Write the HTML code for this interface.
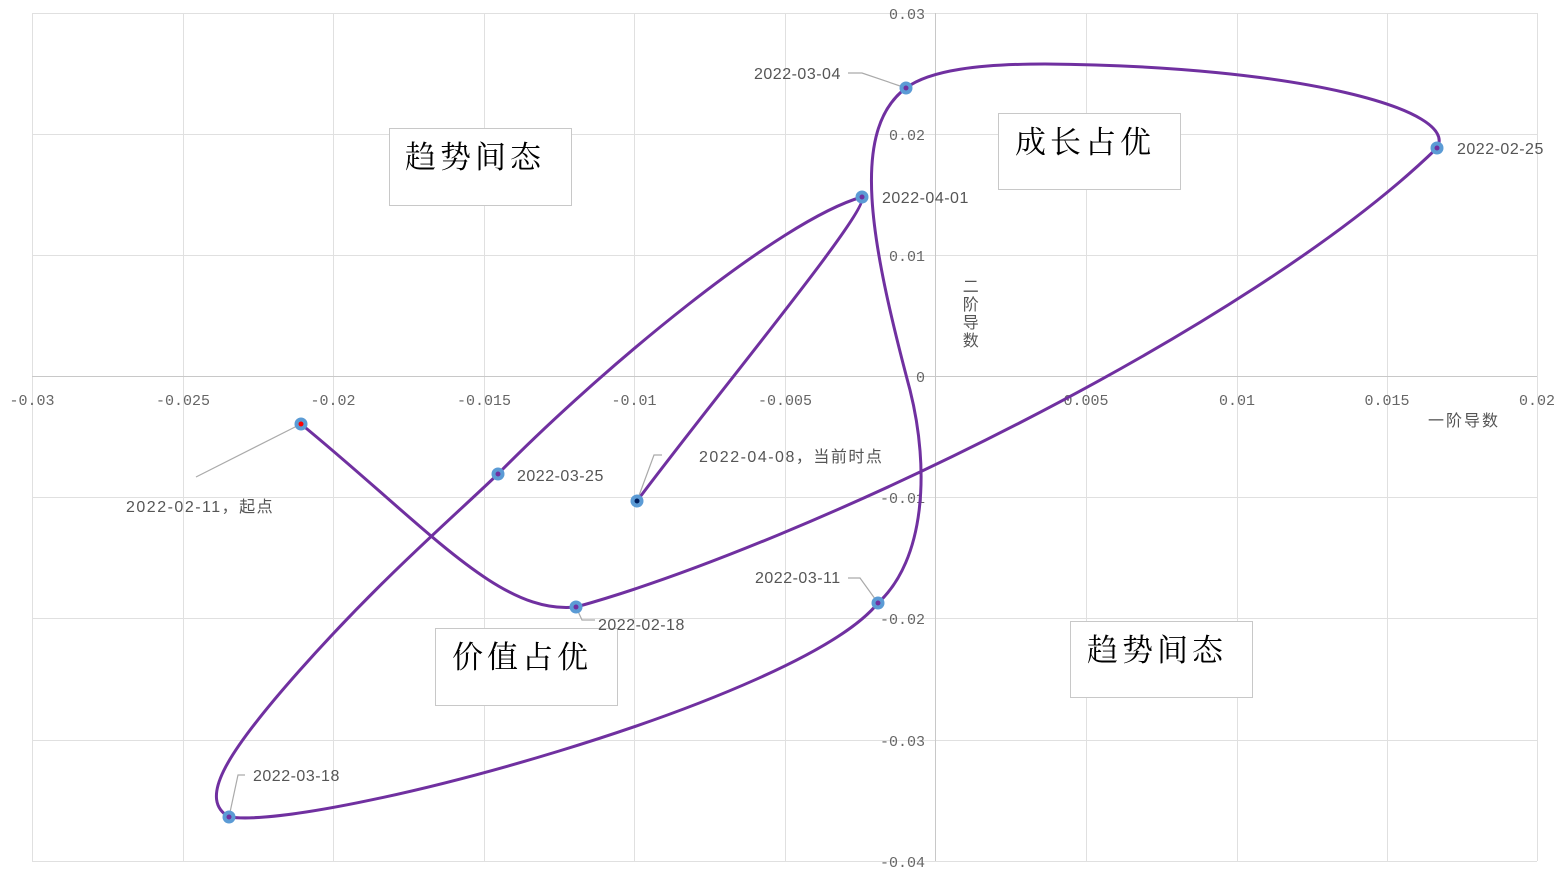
<!DOCTYPE html>
<html><head><meta charset="utf-8"><style>
body{margin:0;background:#fff;}
svg{display:block;}
.t{font-family:"Liberation Mono","Noto Sans CJK SC",monospace;font-size:15px;fill:#666;}
.d{font-family:"Liberation Sans","Noto Sans CJK SC",sans-serif;font-size:16px;fill:#555;letter-spacing:0.5px;}
.b{font-family:"Liberation Serif","Noto Serif CJK SC",serif;font-size:31px;fill:#000;letter-spacing:4px;}
</style></head><body>
<svg width="1560" height="876" xmlns="http://www.w3.org/2000/svg">
<g stroke="#e0e0e0" stroke-width="1" fill="none">
<path d="M32.5 13V861M183.5 13V861M333.5 13V861M484.5 13V861M634.5 13V861M785.5 13V861M1086.5 13V861M1237.5 13V861M1387.5 13V861M1537.5 13V861"/>
<path d="M32 13.5H1537M32 134.5H1537M32 255.5H1537M32 497.5H1537M32 618.5H1537M32 740.5H1537M32 861.5H1537"/>
</g>
<g stroke="#c8c8c8"><path d="M935.5 13V861M32 376.5H1537"/></g>
<g class="t" text-anchor="middle">
<text x="32" y="405">-0.03</text><text x="183" y="405">-0.025</text><text x="333" y="405">-0.02</text><text x="484" y="405">-0.015</text><text x="634" y="405">-0.01</text><text x="785" y="405">-0.005</text><text x="1086" y="405">0.005</text><text x="1237" y="405">0.01</text><text x="1387" y="405">0.015</text><text x="1537" y="405">0.02</text>
</g>
<g class="t" text-anchor="end">
<text x="925" y="19">0.03</text><text x="925" y="140">0.02</text><text x="925" y="261">0.01</text><text x="925" y="382">0</text><text x="925" y="503">-0.01</text><text x="925" y="624">-0.02</text><text x="925" y="746">-0.03</text><text x="925" y="867">-0.04</text>
</g>
<g class="d" font-size="14" text-anchor="middle"><text x="971" y="292">二</text><text x="971" y="310">阶</text><text x="971" y="328">导</text><text x="971" y="346">数</text></g>
<text class="d" x="1428" y="426" font-size="14" style="letter-spacing:2px">一阶导数</text>
<g fill="#fff" stroke="#c8c8c8">
<rect x="389.5" y="128.5" width="182" height="77"/><rect x="998.5" y="113.5" width="182" height="76"/><rect x="435.5" y="628.5" width="182" height="77"/><rect x="1070.5" y="621.5" width="182" height="76"/>
</g>
<text class="b" x="405" y="168">趋势间态</text>
<text class="b" x="1015" y="153">成长占优</text>
<text class="b" x="452" y="668">价值占优</text>
<text class="b" x="1087" y="661">趋势间态</text>
<g stroke="#aaa" fill="none" stroke-width="1.2">
<path d="M196 477L301 424"/><path d="M848 73H862L906 88"/><path d="M848 578H860L878 603"/><path d="M245 775H238L229 817"/><path d="M662 455H654L637 501"/><path d="M576 607L582 620H595"/>
</g>
<path fill="none" stroke="#7030a0" stroke-width="3" d="M301,424 C430,530 500,615 576,607 C800,545 1250,330 1437,148 C1460,110 1300,66 1045,64 C980,64 930,70 906,88 C850,130 870,240 910,390 C930,470 925,560 878,603 C800,700 320,830 229,817 C200,800 220,760 300,670 C380,580 450,520 498,474 C600,370 780,220 862,197 C870,210 720,390 637,501"/>
<g fill="#5b9bd5">
<circle cx="301" cy="424" r="6.5"/><circle cx="576" cy="607" r="6.5"/><circle cx="1437" cy="148" r="6.5"/><circle cx="906" cy="88" r="6.5"/><circle cx="878" cy="603" r="6.5"/><circle cx="229" cy="817" r="6.5"/><circle cx="498" cy="474" r="6.5"/><circle cx="862" cy="197" r="6.5"/><circle cx="637" cy="501" r="6.5"/>
</g>
<g fill="#7030a0">
<circle cx="576" cy="607" r="2.5"/><circle cx="1437" cy="148" r="2.5"/><circle cx="906" cy="88" r="2.5"/><circle cx="878" cy="603" r="2.5"/><circle cx="229" cy="817" r="2.5"/><circle cx="498" cy="474" r="2.5"/><circle cx="862" cy="197" r="2.5"/>
</g>
<circle cx="301" cy="424" r="2.5" fill="#f00"/><circle cx="637" cy="501" r="2.5" fill="#002060"/>
<g class="d">
<text x="126" y="512" style="letter-spacing:1.5px">2022-02-11，起点</text>
<text x="598" y="630">2022-02-18</text>
<text x="1457" y="154">2022-02-25</text>
<text x="754" y="79">2022-03-04</text>
<text x="755" y="583">2022-03-11</text>
<text x="253" y="781">2022-03-18</text>
<text x="517" y="481">2022-03-25</text>
<text x="882" y="203">2022-04-01</text>
<text x="699" y="462" style="letter-spacing:1.5px">2022-04-08，当前时点</text>
</g>
</svg>
</body></html>
